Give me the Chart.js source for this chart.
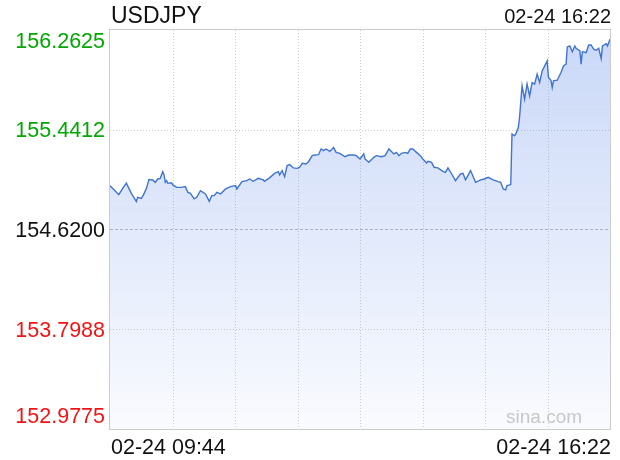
<!DOCTYPE html>
<html>
<head>
<meta charset="utf-8">
<title>USDJPY</title>
<script src="https://cdn.jsdelivr.net/npm/chart.js@4/dist/chart.umd.min.js"></script>
<style>
  html, body { margin: 0; padding: 0; background: #fff; }
  #wrap { width: 620px; height: 460px; position: relative; }
</style>
</head>
<body>
<div id="wrap"><canvas id="fx"></canvas></div>
<script>
// Intraday USDJPY, 02-24 09:44 → 16:22 (minute offsets from the open).
const TITLE = 'USDJPY';
const TIME_START = '02-24 09:44';
const TIME_END = '02-24 16:22';
const SESSION_MINUTES = 398;
const PREV_CLOSE = 154.62;
const Y_TICKS = [156.2625, 155.4412, 154.6200, 153.7988, 152.9775];
const X_DIVISIONS = 8;

const minutes = [
  0, 3, 7, 10, 13, 17, 21, 22, 25, 27, 29, 31, 34, 36, 38, 40, 42, 43, 44, 45,
  46, 49, 50, 53, 57, 60, 62, 64, 67, 69, 72, 76, 79, 81, 83, 85, 88, 92, 96, 100,
  101, 105, 109, 111, 114, 118, 122, 123, 127, 131, 134, 135, 137, 139, 141, 143, 146, 149, 151, 153,
  156, 158, 161, 163, 166, 168, 170, 172, 175, 178, 180, 183, 187, 190, 194, 196, 199, 202, 203, 206,
  210, 212, 216, 219, 222, 224, 226, 228, 230, 232, 235, 237, 239, 241, 244, 247, 249, 252, 253, 256,
  258, 261, 265, 267, 269, 272, 275, 279, 281, 283, 287, 291, 295, 298, 301, 305, 309, 311, 313, 315,
  316, 319, 320, 322, 323, 325, 326, 328, 330, 332, 334, 336, 338, 340, 342, 344, 348, 349, 351, 352,
  353, 356, 359, 361, 363, 364, 366, 368, 370, 371, 374, 375, 376, 379, 381, 383, 385, 387, 389, 391,
  392, 395, 396, 398
];

const prices = [
  154.981, 154.949, 154.907, 154.957, 155.002, 154.918, 154.850, 154.885, 154.875, 154.913,
  154.959, 155.031, 155.028, 155.008, 155.036, 155.041, 155.096, 155.069, 155.008, 155.022,
  155.000, 155.004, 154.987, 154.967, 154.967, 154.973, 154.926, 154.918, 154.872, 154.885,
  154.940, 154.913, 154.852, 154.899, 154.899, 154.926, 154.913, 154.954, 154.973, 154.981,
  154.954, 155.014, 155.022, 155.036, 155.017, 155.041, 155.028, 155.017, 155.045, 155.082,
  155.096, 155.069, 155.105, 155.055, 155.146, 155.154, 155.127, 155.123, 155.132, 155.165,
  155.160, 155.178, 155.228, 155.233, 155.236, 155.283, 155.269, 155.283, 155.263, 155.296,
  155.255, 155.247, 155.219, 155.233, 155.233, 155.228, 155.201, 155.242, 155.201, 155.173,
  155.214, 155.228, 155.219, 155.228, 155.283, 155.263, 155.242, 155.255, 155.228, 155.247,
  155.255, 155.247, 155.283, 155.283, 155.255, 155.228, 155.201, 155.168, 155.181, 155.173,
  155.132, 155.127, 155.099, 155.091, 155.127, 155.077, 155.022, 155.077, 155.082, 155.028,
  155.105, 155.008, 155.028, 155.036, 155.050, 155.028, 155.014, 155.008, 154.954, 154.946,
  154.981, 154.990, 155.406, 155.392, 155.406, 155.460, 155.542, 155.803, 155.693, 155.817,
  155.720, 155.830, 155.817, 155.899, 155.830, 155.926, 156.008, 155.871, 155.849, 155.789,
  155.844, 155.849, 155.912, 155.967, 155.981, 156.123, 156.131, 156.084, 156.131, 156.112,
  156.090, 155.981, 156.084, 156.076, 156.139, 156.139, 156.104, 156.096, 156.112, 156.027,
  156.131, 156.150, 156.131, 156.186
];

const FONT = '"Liberation Sans", Arial, Helvetica, sans-serif';
const GREEN = '#00a800';
const RED = '#f01414';
const INK = '#111111';

/* frame, grid, axis texts — positioned from the chart's own scales */
const sinaFrame = {
  id: 'sinaFrame',
  beforeDatasetsDraw(chart) {
    const { ctx, chartArea: a, scales: { x, y } } = chart;
    ctx.save();
    ctx.lineWidth = 1;
    // vertical dotted grid
    ctx.strokeStyle = '#cfcfcf';
    ctx.setLineDash([1, 2]);
    for (let k = 1; k < X_DIVISIONS; k++) {
      const px = Math.round(x.getPixelForValue(SESSION_MINUTES * k / X_DIVISIONS)) + 0.5;
      ctx.beginPath(); ctx.moveTo(px, a.top); ctx.lineTo(px, a.bottom); ctx.stroke();
    }
    // horizontal grid (prev close dashed)
    Y_TICKS.slice(1, -1).forEach((v) => {
      const py = Math.round(y.getPixelForValue(v)) + 0.5;
      if (v === PREV_CLOSE) { ctx.strokeStyle = '#bcbcbc'; ctx.setLineDash([3, 2]); }
      else { ctx.strokeStyle = '#cfcfcf'; ctx.setLineDash([1, 2]); }
      ctx.beginPath(); ctx.moveTo(a.left, py); ctx.lineTo(a.right, py); ctx.stroke();
    });
    ctx.restore();
  },
  afterDatasetsDraw(chart) {
    const { ctx, chartArea: a, scales: { y } } = chart;
    ctx.save();
    // plot frame
    ctx.strokeStyle = '#cccccc';
    ctx.lineWidth = 1;
    ctx.strokeRect(a.left - 0.5, a.top - 0.5, a.right - a.left + 1, a.bottom - a.top + 1);

    // watermark
    ctx.font = '19px ' + FONT;
    ctx.fillStyle = '#c8c8c8';
    ctx.textAlign = 'left';
    ctx.textBaseline = 'alphabetic';
    ctx.fillText('sina.com', a.right - 104, a.bottom - 6);

    // y labels: top one hangs below the frame, bottom one sits above it
    ctx.font = '21.5px ' + FONT;
    ctx.textAlign = 'right';
    Y_TICKS.forEach((v, i) => {
      const py = y.getPixelForValue(v);
      let base = py + 7.7;
      if (i === 0) base = py + 17.5;
      if (i === Y_TICKS.length - 1) base = py - 6.5;
      ctx.fillStyle = v > PREV_CLOSE ? GREEN : v < PREV_CLOSE ? RED : INK;
      ctx.fillText(v.toFixed(4), a.left - 5, base);
    });

    // x labels
    ctx.fillStyle = INK;
    ctx.textAlign = 'left';
    ctx.fillText(TIME_START, a.left + 1, a.bottom + 25);
    ctx.textAlign = 'right';
    ctx.fillText(TIME_END, a.right + 1, a.bottom + 25);

    // header
    ctx.font = '20px ' + FONT;
    ctx.fillText(TIME_END, a.right + 1, a.top - 6.7);
    ctx.textAlign = 'left';
    ctx.font = '23px ' + FONT;
    ctx.fillText(TITLE, a.left + 1, a.top - 6.7);
    ctx.restore();
  },
};

// translucent gradient so the grid shows through, as in the original
function areaFill(context) {
  const { ctx, chartArea } = context.chart;
  if (!chartArea) return 'rgba(70,120,230,0.2)';
  const g = ctx.createLinearGradient(0, chartArea.top, 0, chartArea.bottom);
  g.addColorStop(0, 'rgba(70,120,230,0.29)');
  g.addColorStop(1, 'rgba(70,120,230,0.03)');
  return g;
}

new Chart(document.getElementById('fx'), {
  type: 'line',
  data: {
    datasets: [{
      label: TITLE,
      data: minutes.map((m, i) => ({ x: m, y: prices[i] })),
      borderColor: '#3f74d2',
      borderWidth: 1.4,
      backgroundColor: areaFill,
      fill: 'start',
      pointRadius: 0,
      tension: 0,
    }],
  },
  options: {
    responsive: true,
    maintainAspectRatio: false,
    animation: false,
    layout: { padding: { left: 110, top: 30, right: 10, bottom: 31 } },
    plugins: { legend: { display: false }, tooltip: { enabled: false } },
    scales: {
      x: { type: 'linear', display: false, min: 0, max: SESSION_MINUTES },
      y: { type: 'linear', display: false, min: Y_TICKS[Y_TICKS.length - 1], max: Y_TICKS[0] },
    },
  },
  plugins: [sinaFrame],
});
</script>
</body>
</html>
